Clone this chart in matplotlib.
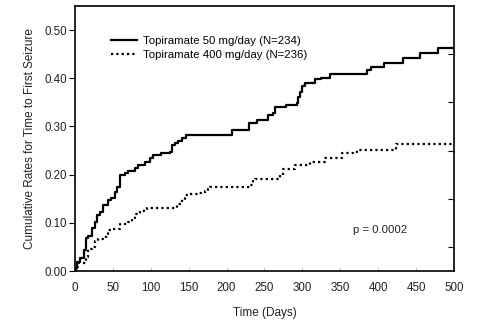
import matplotlib
matplotlib.use("Agg")
import matplotlib.pyplot as plt

plt.rcParams['font.family'] = ['Liberation Sans', 'DejaVu Sans']

# Topiramate 50 mg/day (N=234)
t50 = [0, 1.3, 3, 6.6, 10, 12, 14.5, 17.6, 22, 26, 28.6, 33, 37, 44, 48, 53, 55, 59,
       66, 70, 79, 83.5, 92, 99, 103, 114, 125, 127.5, 132, 136, 141, 147, 207, 229,
       240, 255, 261, 264, 279, 292.5, 294.6, 297, 299, 303, 317, 325, 336, 385, 391,
       407, 433, 455, 479, 500]
v50 = [0, 0.006, 0.019, 0.026, 0.028, 0.044, 0.068, 0.073, 0.089, 0.102, 0.116, 0.123,
       0.137, 0.147, 0.151, 0.165, 0.175, 0.199, 0.203, 0.208, 0.213, 0.220, 0.227, 0.235,
       0.240, 0.245, 0.248, 0.261, 0.265, 0.270, 0.276, 0.282, 0.292, 0.307, 0.313, 0.324,
       0.327, 0.340, 0.344, 0.348, 0.362, 0.372, 0.383, 0.390, 0.398, 0.400, 0.409, 0.417,
       0.424, 0.432, 0.443, 0.452, 0.462, 0.462]

# Topiramate 400 mg/day (N=236)
t400 = [0, 1, 4.4, 14.5, 17.6, 22, 26, 31, 37, 41, 44, 48, 59, 70, 75, 79, 86, 91, 94.5,
        134, 141, 145, 150, 163, 171.5, 176, 178, 231, 235, 237.5, 270, 275, 290, 310,
        330, 352, 367, 371.6, 424, 500]
v400 = [0, 0.009, 0.017, 0.030, 0.045, 0.050, 0.063, 0.066, 0.068, 0.076, 0.085, 0.087,
        0.098, 0.101, 0.110, 0.118, 0.124, 0.128, 0.130, 0.140, 0.149, 0.157, 0.160, 0.162,
        0.166, 0.171, 0.174, 0.178, 0.187, 0.191, 0.199, 0.211, 0.220, 0.227, 0.235, 0.244,
        0.248, 0.252, 0.263, 0.263]

labels = ["Topiramate 50 mg/day (N=234)", "Topiramate 400 mg/day (N=236)"]
xticks = [0, 50, 100, 150, 200, 250, 300, 350, 400, 450, 500]
yticks = [0.0, 0.1, 0.2, 0.3, 0.4, 0.5]

fig = plt.figure(figsize=(4.89, 3.35), dpi=100)
ax = fig.add_axes([75/489, 1-271/335, 379/489, 265/335])

ax.step(t50, v50, where='post', color='black', lw=1.6, label=labels[0])
ax.step(t400, v400, where='post', color='black', lw=1.6, linestyle=(0, (1.0, 1.4)),
        label=labels[1])

ax.set_xlim(0, 500)
ax.set_ylim(0, 0.55)
ax.set_xticks(xticks)
ax.set_yticks(yticks)
ax.set_yticklabels([f"{y:.2f}" for y in yticks])
ax.set_yticks([0.05, 0.15, 0.25, 0.35, 0.45], minor=True)

for s in ax.spines.values():
    s.set_linewidth(1.2)

ax.tick_params(axis='y', which='major', direction='out', length=4, width=0.8,
               labelsize=8.3, pad=2, left=True, right=False, labelcolor='#222222')
ax.tick_params(axis='y', which='minor', direction='in', length=4, width=0.8,
               left=False, right=True)
ax.tick_params(axis='x', which='major', direction='in', length=3, width=0.6,
               colors='#bbbbbb', labelcolor='#222222', labelsize=8.3, pad=8)

ax.set_xlabel("Time (Days)", fontsize=8.5, labelpad=9, color='#222222')
ax.set_ylabel("Cumulative Rates for Time to First Seizure", fontsize=8.5,
              labelpad=6, color='#222222')

ax.legend(loc='upper left', bbox_to_anchor=(0.095, 0.885), frameon=False,
          fontsize=8.2, handlelength=2.3, handletextpad=0.5, labelspacing=0.3,
          borderpad=0, borderaxespad=0)

ax.text(367, 0.085, "p = 0.0002", fontsize=8.2, color='#222222', va='center')

fig.savefig("out.png", dpi=100)
